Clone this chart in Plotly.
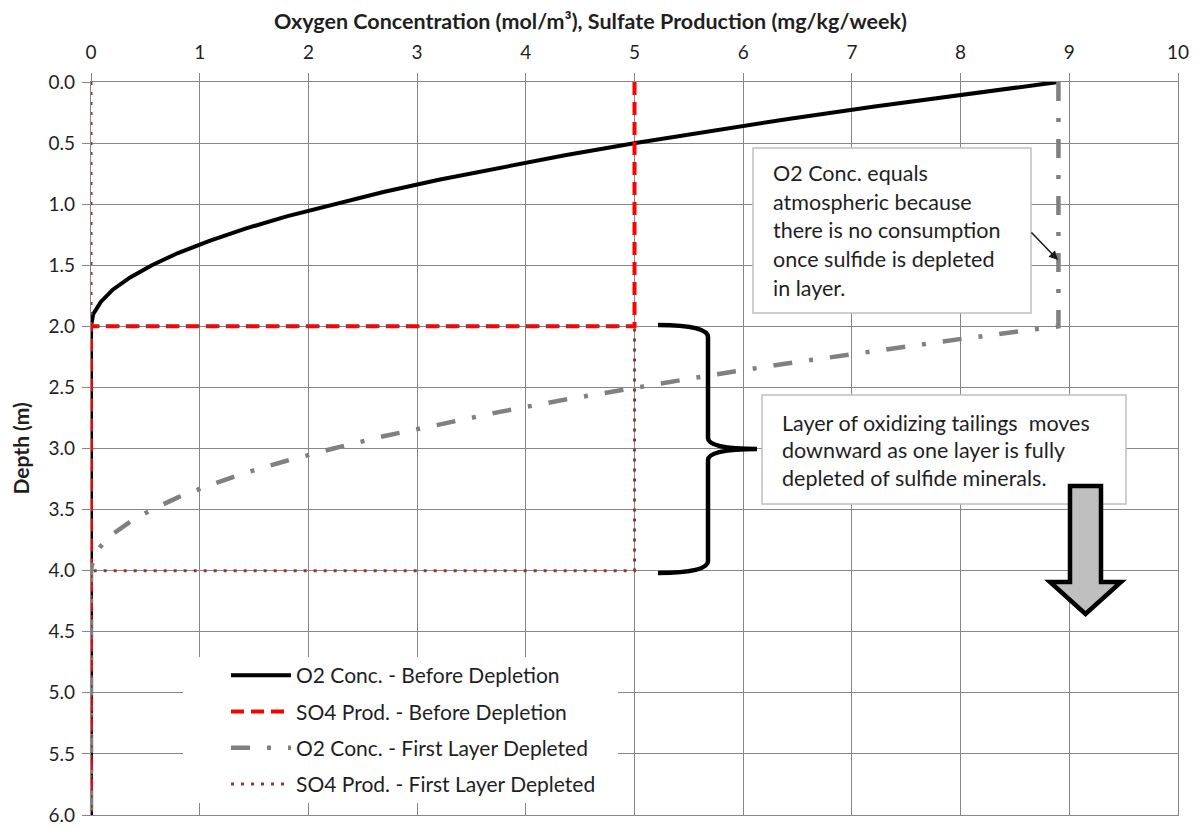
import plotly.graph_objects as go

# ---------------- data ----------------
depth_o2_before = [0.0, 0.1, 0.2, 0.3, 0.4, 0.5, 0.6, 0.7, 0.8, 0.9, 1.0,
                   1.1, 1.2, 1.3, 1.4, 1.5, 1.6, 1.7, 1.8, 1.9, 2.0, 6.0]
o2_before = [8.90, 8.03, 7.21, 6.43, 5.70, 5.01, 4.36, 3.76, 3.20, 2.69, 2.23,
             1.80, 1.42, 1.09, 0.80, 0.56, 0.36, 0.20, 0.09, 0.02, 0.0, 0.0]

depth_so4_before = [0.0, 2.0, 2.0, 6.0]
so4_before = [5.0, 5.0, 0.0, 0.0]

depth_o2_first = [0.0, 2.0, 2.1, 2.2, 2.3, 2.4, 2.5, 2.6, 2.7, 2.8, 2.9, 3.0,
                  3.1, 3.2, 3.3, 3.4, 3.5, 3.6, 3.7, 3.8, 3.9, 4.0, 6.0]
o2_first = [8.90, 8.90, 8.03, 7.21, 6.43, 5.70, 5.01, 4.36, 3.76, 3.20, 2.69, 2.23,
            1.80, 1.42, 1.09, 0.80, 0.56, 0.36, 0.20, 0.09, 0.02, 0.0, 0.0]

depth_so4_first = [0.0, 2.0, 2.0, 4.0, 4.0, 6.0]
so4_first = [0.0, 0.0, 5.0, 5.0, 0.0, 0.0]

series_names = ["O2 Conc. - Before Depletion", "SO4 Prod. - Before Depletion",
                "O2 Conc. - First Layer Depleted", "SO4 Prod. - First Layer Depleted"]

x_ticks = [0, 1, 2, 3, 4, 5, 6, 7, 8, 9, 10]
y_ticks = [0.0, 0.5, 1.0, 1.5, 2.0, 2.5, 3.0, 3.5, 4.0, 4.5, 5.0, 5.5, 6.0]

note1_lines = ["O2 Conc. equals", "atmospheric because", "there is no consumption",
               "once sulfide is depleted", "in layer."]
note2_lines = ["Layer of oxidizing tailings&nbsp; moves", "downward as one layer is fully",
               "depleted of sulfide minerals."]

x_title = "Oxygen Concentration (mol/m³), Sulfate Production (mg/kg/week)"
y_title = "Depth (m)"

# ---------------- figure ----------------
FONT = "Lato, Carlito, Calibri, sans-serif"
TXT = "#1f1f1f"
GRID = "#878787"

OFF = 8                       # default page margin of the html body
PX0, PY0, PX1, PY1 = 91, 82, 1178, 815   # plot area on screen
W, H = 1204 - OFF, 829 - OFF
L, T = PX0 - OFF, PY0 - OFF
R, B = W - (PX1 - OFF), H - (PY1 - OFF)
pw, ph = PX1 - PX0, PY1 - PY0


def dx(px):
    return (px - PX0) / pw * 10.0


def dy(py):
    return (py - PY0) / ph * 6.0


fig = go.Figure()
styles = [
    dict(color="black", width=4),
    dict(color="#FF0000", width=4, dash="13px,7px"),
    dict(color="#808080", width=4.5, dash="19px,17px,4px,17px"),
    dict(color="#953735", width=3, dash="3px,7px"),
]
data = [(o2_before, depth_o2_before), (so4_before, depth_so4_before),
        (o2_first, depth_o2_first), (so4_first, depth_so4_first)]
for i, ((xs, ys), name, st) in enumerate(zip(data, series_names, styles)):
    fig.add_trace(go.Scatter(x=xs, y=ys, mode="lines", name=name, line=st,
                             legendgroup=f"g{i}", hoverinfo="skip"))

shapes = []
# white background of the legend (covers gridlines only)
shapes.append(dict(type="rect", xref="x", yref="y", x0=dx(183), x1=dx(618),
                   y0=dy(657), y1=dy(803), fillcolor="white",
                   line=dict(width=0), layer="between"))
# note boxes
shapes.append(dict(type="rect", xref="x", yref="y", x0=dx(753), x1=dx(1031),
                   y0=dy(148), y1=dy(313), fillcolor="white",
                   line=dict(color="#BFBFBF", width=1.5), layer="above"))
shapes.append(dict(type="rect", xref="x", yref="y", x0=dx(762), x1=dx(1126),
                   y0=dy(395), y1=dy(504), fillcolor="white",
                   line=dict(color="#BFBFBF", width=1.5), layer="above"))
# curly brace
bx0, bx1, bx2 = dx(658), dx(708), dx(757)
brace = (f"M {bx0},{dy(325)} Q {bx1},{dy(325)} {bx1},{dy(337)} "
         f"L {bx1},{dy(438)} Q {bx1},{dy(449)} {bx2},{dy(449)} "
         f"Q {bx1},{dy(449)} {bx1},{dy(460)} "
         f"L {bx1},{dy(561)} Q {bx1},{dy(573)} {bx0},{dy(573)}")
shapes.append(dict(type="path", xref="x", yref="y", path=brace,
                   line=dict(color="black", width=4.5), layer="above"))
# block arrow
ax_l, ax_r, ax_c = dx(1070), dx(1101), dx(1085.5)
hw_l, hw_r = dx(1050), dx(1121)
arrow = (f"M {ax_l},{dy(486)} L {ax_r},{dy(486)} L {ax_r},{dy(582)} "
         f"L {hw_r},{dy(582)} L {ax_c},{dy(614)} L {hw_l},{dy(582)} "
         f"L {ax_l},{dy(582)} Z")
shapes.append(dict(type="path", xref="x", yref="y", path=arrow,
                   fillcolor="#BFBFBF", line=dict(color="black", width=4.5),
                   layer="above"))

NOTE_SIZE = 21.5
annotations = []
for txt, py in zip(note1_lines, [173, 202, 230, 259, 288]):
    annotations.append(dict(x=dx(771), y=dy(py), xref="x", yref="y", text=txt,
                            showarrow=False, xanchor="left", yanchor="middle",
                            font=dict(family=FONT, size=NOTE_SIZE, color=TXT)))
for txt, py in zip(note2_lines, [423, 450, 478]):
    annotations.append(dict(x=dx(780), y=dy(py), xref="x", yref="y", text=txt,
                            showarrow=False, xanchor="left", yanchor="middle",
                            font=dict(family=FONT, size=NOTE_SIZE, color=TXT)))
# small pointer arrow
annotations.append(dict(x=dx(1058), y=dy(260), ax=dx(1030), ay=dy(231),
                        xref="x", yref="y", axref="x", ayref="y", text="",
                        showarrow=True, arrowhead=2, arrowsize=1.2,
                        arrowwidth=1.5, arrowcolor="#1a1a1a"))
# axis titles
annotations.append(dict(x=(590 - PX0) / pw, y=1 + (PY0 - 21) / ph, xref="paper",
                        yref="paper", text=f"<b>{x_title}</b>", showarrow=False,
                        xanchor="center", yanchor="middle",
                        font=dict(family=FONT, size=21.5, color=TXT)))
annotations.append(dict(x=(20 - PX0) / pw, y=0.5, xref="paper", yref="paper",
                        text=f"<b>{y_title}</b>", showarrow=False, textangle=-90,
                        xanchor="center", yanchor="middle",
                        font=dict(family=FONT, size=21, color=TXT)))

fig.update_layout(
    width=W, height=H,
    margin=dict(l=L, r=R, t=T, b=B, pad=0),
    paper_bgcolor="white", plot_bgcolor="white",
    font=dict(family=FONT, size=18, color=TXT),
    shapes=shapes, annotations=annotations,
    showlegend=True,
    legend=dict(x=(226 - PX0) / pw, y=1 - (655 - PY0) / ph, xanchor="left",
                yanchor="top", bgcolor="rgba(0,0,0,0)", borderwidth=0,
                traceorder="grouped", tracegroupgap=6, itemwidth=60,
                font=dict(family=FONT, size=21, color=TXT)),
    xaxis=dict(side="top", range=[0, 10], tickvals=x_ticks,
               ticktext=[str(v) for v in x_ticks], showgrid=True,
               gridcolor=GRID, gridwidth=1.3, showline=True, linecolor=GRID,
               linewidth=1.3, mirror=True, ticks="outside", ticklen=8,
               tickcolor=GRID, zeroline=False, automargin=False,
               ticklabelstandoff=6,
               tickfont=dict(family=FONT, size=19, color=TXT)),
    yaxis=dict(range=[6, 0], tickvals=y_ticks,
               ticktext=[f"{v:.1f}" for v in y_ticks], showgrid=True,
               gridcolor=GRID, gridwidth=1.3, showline=True, linecolor=GRID,
               linewidth=1.3, mirror=True, ticks="outside", ticklen=8,
               tickcolor=GRID, zeroline=False, ticklabelstandoff=3,
               automargin=False,
               tickfont=dict(family=FONT, size=19, color=TXT)),
)

fig.write_html("out.html")
